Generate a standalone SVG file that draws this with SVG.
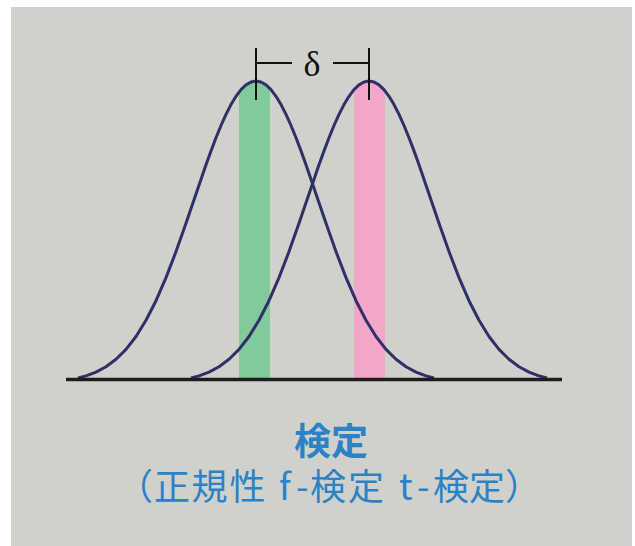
<svg xmlns="http://www.w3.org/2000/svg" xmlns:xlink="http://www.w3.org/1999/xlink" width="635" height="546" viewBox="0 0 635 546">
<style>
.curve{fill:none;stroke:#2f3068;stroke-width:3;stroke-linejoin:round}
.br{stroke:#111;stroke-width:2;fill:none}
.jp{font-family:"Noto Sans CJK JP","Noto Sans",sans-serif;fill:#2b82c7}
</style>
<defs>
<path id="g" d="M78,378 L86,375.9 L96,372.1 L106,366.7 L116,359.3 L126,349.4 L136,336.5 L146,320.3 L156,300.7 L166,277.6 L176,251.6 L186,223.3 L196,193.9 L206,164.8 L211,150.9 L216,137.7 L221,125.5 L226,114.4 L231,104.6 L236,96.3 L241,89.7 L246,84.9 L251,82.0 L256,81 L261,82.0 L266,84.9 L271,89.7 L276,96.3 L281,104.6 L286,114.4 L291,125.5 L296,137.7 L301,150.9 L306,164.8 L316,193.9 L326,223.3 L336,251.6 L346,277.6 L356,300.7 L366,320.3 L376,336.5 L386,349.4 L396,359.3 L406,366.7 L416,372.1 L426,375.9 L434,378"/>
<clipPath id="cl"><use xlink:href="#g"/></clipPath>
</defs>
<rect x="11" y="7" width="621" height="539" fill="#d1d1cc"/>
<g id="bands">
<rect x="239" y="70" width="31" height="308" fill="#82c99b" clip-path="url(#cl)"/>
<g transform="translate(113,0)"><rect x="241" y="70" width="31" height="308" fill="#f3a6c8" clip-path="url(#cl)"/></g>
</g>
<g id="curves">
<use xlink:href="#g" class="curve"/>
<use xlink:href="#g" class="curve" transform="translate(113,0)"/>
</g>
<line x1="66" y1="379.5" x2="562" y2="379.5" stroke="#1e1c1c" stroke-width="3.5"/>
<g id="delta">
<path class="br" d="M256,48 V100 M256,63 H292 M333,63 H369 M369,48 V100"/>
<text x="312" y="76" font-family="Liberation Serif,serif" font-size="36" text-anchor="middle" fill="#111">δ</text>
</g>
<g id="labels">
<text class="jp" x="331" y="455" font-size="37" font-weight="bold" text-anchor="middle">検定</text>
<text class="jp" x="117 154 191.5 229.5 266 279 296 310 348 385 399 417 433 469 505" y="500" font-size="36">（正規性 f-検定 t-検定）</text>
</g>
</svg>
